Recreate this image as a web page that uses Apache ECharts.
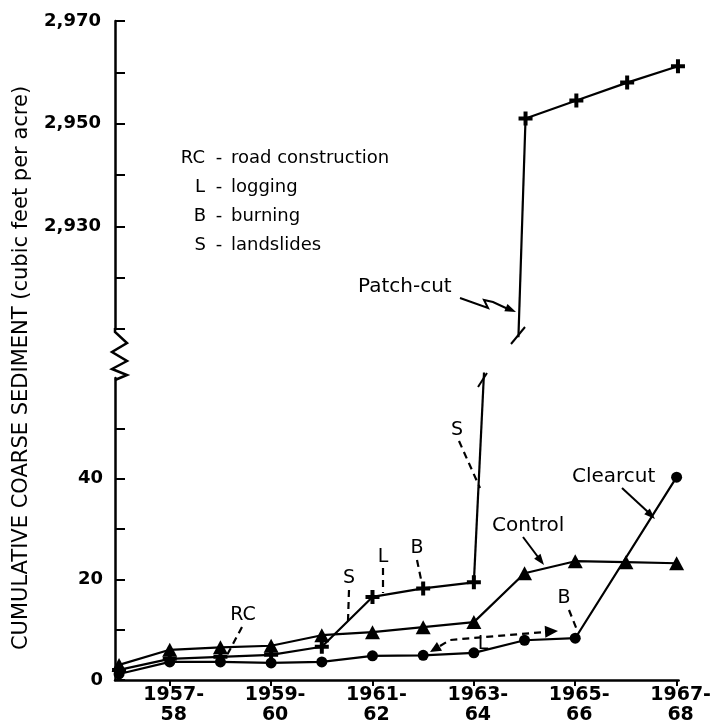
<!DOCTYPE html>
<html><head><meta charset="utf-8">
<script src="https://cdn.jsdelivr.net/npm/echarts@6/dist/echarts.min.js"></script>
<style>html,body{margin:0;padding:0;background:#fff}#c{width:714px;height:727px}</style>
</head><body><div id="c"></div>
<script>
// ---- data ----
const years = [1956,1957,1958,1959,1960,1961,1962,1963,1964,1965,1966,1967];
const controlValues = [3.0,6.0,6.5,6.8,8.9,9.5,10.5,11.5,21.2,23.6,23.4,23.2];
const clearcutYears = [1956,1957,1958,1959,1960,1961,1962,1963,1964,1965,1967];
const clearcutValues = [1.2,3.6,3.6,3.4,3.6,4.8,4.9,5.4,7.9,8.3,40.3];
const patchLowYears = [1956,1957,1958,1959,1960,1961,1962,1963];
const patchLowValues = [2.0,4.2,4.6,5.0,6.6,16.5,18.2,19.4];
const patchHighYears = [1964,1965,1966,1967];
const patchHighValues = [2951,2954.5,2958,2961.2];
const jumpLowYears = [1963,1963.2];
const jumpLowValues = [19.4,61.1];
const jumpHighYears = [1963.86,1964];
const jumpHighValues = [2908.4,2951];
const xTickYears = [1957,1959,1961,1963,1965,1967];
const xTickLabels = ['1957-\n58','1959-\n60','1961-\n62','1963-\n64','1965-\n66','1967-\n68'];
const lowerTicks = [0,10,20,30,40,50];
const lowerLabels = [0,20,40];
const upperTicks = [2910,2920,2930,2940,2950,2960,2970];
const upperLabels = [2930,2950,2970];

const zip = (xs, ys) => xs.map((x, i) => [x, ys[i]]);
const PLUS = 'path://M5,0H9V5H14V9H9V14H5V9H0V5H5Z';
const FONT = '"DejaVu Sans", sans-serif';
const BOLD = { fontFamily: FONT, fontWeight: 'bold', fontSize: 18, color: '#000' };

const chart = echarts.init(document.getElementById('c'), null, { renderer: 'canvas' });

function line(points, dashed) {
  return { type: 'polyline', shape: { points }, silent: true,
    style: { stroke: '#000', lineWidth: dashed ? 2.2 : 2, fill: null, lineDash: dashed ? [7, 5] : null } };
}
function head(x1, y1, x2, y2, len, w) {
  const a = Math.atan2(y2 - y1, x2 - x1);
  const bx = x2 - len * Math.cos(a), by = y2 - len * Math.sin(a);
  const px = -Math.sin(a) * w, py = Math.cos(a) * w;
  return { type: 'polygon', silent: true, shape: { points: [[x2, y2], [bx + px, by + py], [bx - px, by - py]] },
    style: { fill: '#000' } };
}
function txt(t, x, y, size, align) {
  return { type: 'text', x, y, silent: true,
    style: { text: t, font: size + 'px ' + FONT, fill: '#000', align: align || 'center', verticalAlign: 'middle',
      textAlign: align || 'center', textVerticalAlign: 'middle' } };
}

const graphics = [
  // y-axis title
  { type: 'text', x: 22, y: 368, rotation: Math.PI / 2, silent: true,
    style: { text: 'CUMULATIVE COARSE SEDIMENT (cubic feet per acre)', font: '21px ' + FONT, fill: '#000',
      align: 'center', verticalAlign: 'middle', textAlign: 'center', textVerticalAlign: 'middle' } },
  // axis break zig-zag
  { type: 'polyline', silent: true, shape: { points: [[115, 328], [115, 332], [127, 343], [112, 352], [127, 361], [112, 369], [127, 375], [115, 380]] },
    style: { stroke: '#000', lineWidth: 2.5, fill: null } },
  // key
  txt('RC', 205, 158, 18, 'right'), txt('-', 219, 158, 18), txt('road construction', 231, 158, 18, 'left'),
  txt('L', 205, 187, 18, 'right'), txt('-', 219, 187, 18), txt('logging', 231, 187, 18, 'left'),
  txt('B', 206, 216, 18, 'right'), txt('-', 219, 216, 18), txt('burning', 231, 216, 18, 'left'),
  txt('S', 206, 245, 18, 'right'), txt('-', 219, 245, 18), txt('landslides', 231, 245, 18, 'left'),
  // event letters with dashed leaders
  txt('RC', 243, 615, 19), line([[242, 627], [226, 657]], true),
  txt('S', 349, 578, 19), line([[349, 590], [348, 621]], true),
  txt('L', 383, 557, 19), line([[383, 568], [383, 593]], true),
  txt('B', 417, 548, 19), line([[417, 560], [422, 584]], true),
  txt('S', 457, 430, 19), line([[459, 441], [480, 488]], true),
  txt('B', 564, 598, 19), line([[569, 610], [577, 630]], true),
  txt('L', 483, 644, 19),
  line([[440, 646], [450, 640], [545, 632]], true),
  head(447, 642, 430, 652, 11, 5), head(540, 632, 558, 631, 13, 6),
  // series names with arrows
  txt('Patch-cut', 358, 287, 20, 'left'),
  line([[460, 298], [488, 308], [484, 300], [493, 302], [508, 309]]), head(495, 303, 516, 312, 11, 4),
  txt('Control', 492, 526, 20, 'left'),
  line([[523, 537], [538, 557]]), head(528, 544, 544, 565, 11, 4),
  txt('Clearcut', 572, 477, 20, 'left'),
  line([[622, 488], [648, 512]]), head(636, 501, 655, 519, 11, 4),
  // break marks on the patch-cut jump
  line([[487, 373], [478, 387]]),
  line([[511, 344], [525, 327]])
];

const baseSeries = { type: 'line', lineStyle: { color: '#000', width: 2.2 }, itemStyle: { color: '#000' },
  emphasis: { disabled: true }, animation: false, z: 3 };
const axisLineStyle = { color: '#000', width: 2.5 };

chart.setOption({
  animation: false,
  backgroundColor: '#fff',
  grid: [
    { left: 115, right: 34, top: 378, bottom: 47 },
    { left: 115, right: 34, top: 21, height: 308 }
  ],
  xAxis: [
    { gridIndex: 0, type: 'value', min: 1955.92, max: 1967.04,
      axisLine: { show: true, onZero: false, lineStyle: axisLineStyle },
      axisTick: { show: true, customValues: xTickYears, length: 6, lineStyle: { color: '#000', width: 2 } },
      axisLabel: Object.assign({}, BOLD, { customValues: xTickYears, margin: 5, lineHeight: 20, fontSize: 19,
        padding: [0, 0, 0, 8],
        formatter: v => xTickLabels[xTickYears.indexOf(v)] || '' }),
      splitLine: { show: false } },
    { gridIndex: 1, type: 'value', min: 1955.92, max: 1967.04, show: false, splitLine: { show: false } }
  ],
  yAxis: [
    { gridIndex: 0, type: 'value', min: 0, max: 60,
      axisLine: { show: true, lineStyle: axisLineStyle },
      axisTick: { show: true, inside: true, length: 10, customValues: lowerTicks, lineStyle: { color: '#000', width: 2 } },
      axisLabel: Object.assign({}, BOLD, { customValues: lowerLabels, margin: 12 }),
      splitLine: { show: false } },
    { gridIndex: 1, type: 'value', min: 2910, max: 2970,
      axisLine: { show: true, lineStyle: axisLineStyle },
      axisTick: { show: true, inside: true, length: 10, customValues: upperTicks, lineStyle: { color: '#000', width: 2 } },
      axisLabel: Object.assign({}, BOLD, { customValues: upperLabels, margin: 14,
        formatter: v => String(v).replace(/\B(?=(\d{3})+(?!\d))/g, ',') }),
      splitLine: { show: false } }
  ],
  series: [
    Object.assign({}, baseSeries, { name: 'Control', xAxisIndex: 0, yAxisIndex: 0,
      data: zip(years, controlValues), symbol: 'triangle', symbolSize: [15, 14] }),
    Object.assign({}, baseSeries, { name: 'Clearcut', xAxisIndex: 0, yAxisIndex: 0,
      data: zip(clearcutYears, clearcutValues), symbol: 'circle', symbolSize: 11 }),
    Object.assign({}, baseSeries, { name: 'Patch-cut', xAxisIndex: 0, yAxisIndex: 0,
      data: zip(patchLowYears, patchLowValues), symbol: PLUS, symbolSize: 14 }),
    Object.assign({}, baseSeries, { name: 'Patch-cut jump (lower)', xAxisIndex: 0, yAxisIndex: 0,
      data: zip(jumpLowYears, jumpLowValues), showSymbol: false, symbol: 'none', clip: false, z: 2 }),
    Object.assign({}, baseSeries, { name: 'Patch-cut jump (upper)', xAxisIndex: 1, yAxisIndex: 1,
      data: zip(jumpHighYears, jumpHighValues), showSymbol: false, symbol: 'none', clip: false, z: 2 }),
    Object.assign({}, baseSeries, { name: 'Patch-cut (upper)', xAxisIndex: 1, yAxisIndex: 1,
      data: zip(patchHighYears, patchHighValues), symbol: PLUS, symbolSize: 14 })
  ],
  graphic: graphics
});
</script></body></html>
